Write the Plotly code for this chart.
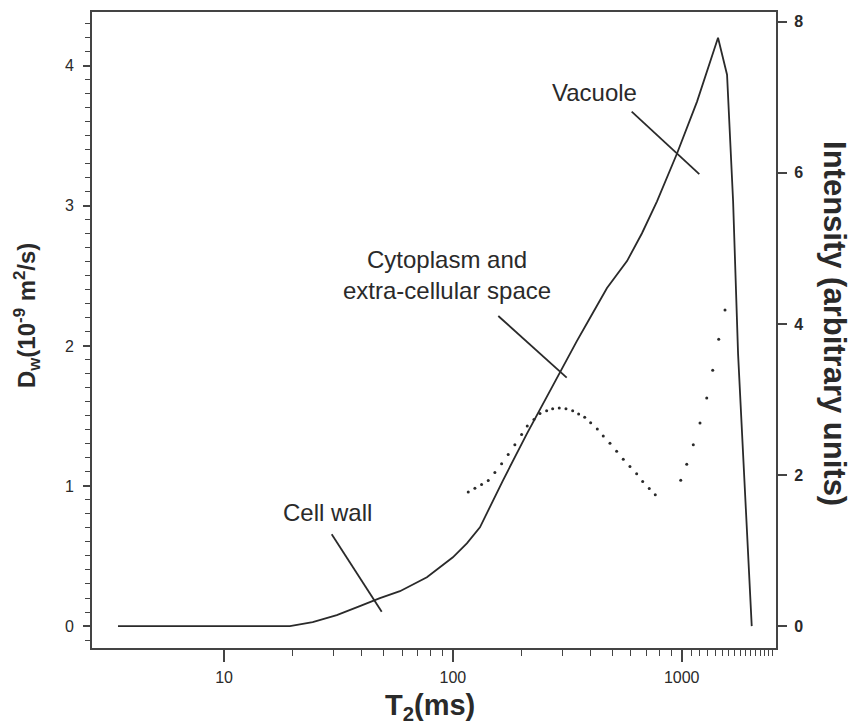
import plotly.graph_objects as go

# ---- data ----
# solid curve: signal intensity (right axis) vs T2 (ms)
t2_line = [3.44, 19.4, 24.4, 31.1, 39.2, 48.0, 58.7, 77.0, 100, 115.1, 131.3, 165.4,
           210.7, 265.6, 293.7, 348.5, 397.2, 471.5, 576.6, 670.4, 779.8, 953.7,
           1166.6, 1441, 1578, 1677, 1763, 1911, 2023]
intensity = [0, 0, 0.053, 0.145, 0.264, 0.37, 0.462, 0.647, 0.911, 1.096, 1.307, 1.927,
             2.548, 3.116, 3.353, 3.776, 4.079, 4.475, 4.832, 5.201, 5.624, 6.257,
             6.944, 7.789, 7.3, 5.624, 3.604, 1.399, 0]

# dotted series: water diffusion coefficient D_w (left axis)
t2_dots_a = [116.7, 124.8, 133.5, 142.7, 152.6, 163.3, 174.5, 186.6, 199.7, 211.3,
             226.1, 240.2, 256.9, 272.9, 291.6, 312.0, 333.8, 354.5, 376.7, 400.0,
             427.6, 454.2, 485.8, 519.6, 555.3, 594.0, 635.5, 675.1, 721.4, 766.4]
dw_dots_a = [0.956, 0.984, 1.011, 1.039, 1.096, 1.158, 1.224, 1.295, 1.367, 1.428,
             1.475, 1.518, 1.537, 1.552, 1.557, 1.552, 1.537, 1.514, 1.490, 1.452,
             1.407, 1.357, 1.305, 1.248, 1.191, 1.139, 1.087, 1.032, 0.982, 0.937]
t2_dots_b = [990, 1051.7, 1123.5, 1202, 1286, 1366, 1451, 1546]
dw_dots_b = [1.041, 1.155, 1.295, 1.450, 1.628, 1.827, 2.048, 2.256]

x_major = [10, 100, 1000]
x_minor = [20, 30, 40, 50, 60, 70, 80, 90,
           200, 300, 400, 500, 600, 700, 800, 900,
           1100, 1200, 1300, 1400, 1500, 1600, 1700, 1800, 1900, 2000,
           2100, 2200, 2300, 2400, 2500]
y_ticks = [0, 1, 2, 3, 4]
y2_ticks = [0, 2, 4, 6, 8]

# ---- geometry helpers (pixel -> paper) ----
W, H = 857, 727
L, R, T, B = 92, 81, 10, 79
PW, PH = W - L - R, H - T - B


def px(x):
    return (x - L) / PW


def py(y):
    return (H - B - y) / PH


FONT = "Liberation Sans, Arial, sans-serif"
INK = "#2a2a2a"
AX = "#444444"

fig = go.Figure()

fig.add_trace(go.Scatter(
    x=t2_dots_a, y=dw_dots_a, mode="markers",
    marker=dict(size=3, color=INK), yaxis="y", showlegend=False))
fig.add_trace(go.Scatter(
    x=t2_dots_b, y=dw_dots_b, mode="markers",
    marker=dict(size=3, color=INK), yaxis="y", showlegend=False))
fig.add_trace(go.Scatter(
    x=t2_line, y=intensity, mode="lines",
    line=dict(color=INK, width=1.8), yaxis="y2", showlegend=False))

fig.update_layout(
    width=W, height=H,
    margin=dict(l=L, r=R, t=T, b=B),
    paper_bgcolor="white", plot_bgcolor="white",
    font=dict(family=FONT, color=INK),
    xaxis=dict(
        type="log", range=[0.423, 3.412],
        showline=True, linecolor=AX, linewidth=2, mirror=True,
        showgrid=False, zeroline=False,
        tickmode="array", tickvals=x_major, ticktext=[str(v) for v in x_major],
        ticks="outside", ticklen=12, tickwidth=1.5, tickcolor=AX,
        tickfont=dict(size=16, family=FONT, color=INK),
        ticklabelstandoff=2,
        minor=dict(tickmode="array", tickvals=x_minor, ticks="outside",
                   ticklen=6, tickwidth=1.2, tickcolor=AX, showgrid=False),
    ),
    yaxis=dict(
        range=[-0.157, 4.384],
        showline=True, linecolor=AX, linewidth=2, mirror=True,
        showgrid=False, zeroline=False,
        tickmode="array", tickvals=y_ticks,
        ticks="outside", ticklen=7, tickwidth=1.5, tickcolor=AX,
        tickfont=dict(size=16, family=FONT, color=INK),
        ticklabelstandoff=6,
        minor=dict(dtick=0.1, ticks="outside", ticklen=5, tickwidth=1.2,
                   tickcolor=AX, showgrid=False),
    ),
    yaxis2=dict(
        range=[-0.29, 8.13], overlaying="y", side="right",
        showline=True, linecolor=AX, linewidth=2,
        showgrid=False, zeroline=False,
        tickmode="array", tickvals=y2_ticks,
        ticktext=["<b>%d</b>" % v for v in y2_ticks],
        ticks="outside", ticklen=9, tickwidth=1.5, tickcolor=AX,
        tickfont=dict(size=16, family=FONT, color=INK),
        ticklabelstandoff=4,
    ),
)

# annotation leader lines
for (x0, y0, x1, y1) in [(631.7, 110, 699.3, 172.7),
                         (498.3, 315, 566.7, 376.7),
                         (331.7, 534, 381.7, 611.7)]:
    fig.add_shape(type="line", xref="paper", yref="paper",
                  x0=px(x0), y0=py(y0), x1=px(x1), y1=py(y1),
                  line=dict(color=INK, width=1.8))


def label(x, y, text, size, angle=0, bold=False):
    fig.add_annotation(xref="paper", yref="paper", x=px(x), y=py(y),
                       xanchor="center", yanchor="middle",
                       text=("<b>%s</b>" % text) if bold else text,
                       showarrow=False, textangle=angle, align="center",
                       font=dict(family=FONT, size=size, color=INK))


label(594, 91, "Vacuole", 24)
label(447, 274, "Cytoplasm and<br>extra-cellular space", 24)
label(327, 512, "Cell wall", 24)

# axis titles
label(430, 707, "T<sub>2</sub>(ms)", 29, bold=True)
label(27, 315, "D<sub>w</sub>(10<sup>-9</sup> m<sup>2</sup>/s)", 24, angle=-90, bold=True)
label(835, 322, "Intensity (arbitrary units)", 31, angle=90, bold=True)

fig.write_html("out.html")
